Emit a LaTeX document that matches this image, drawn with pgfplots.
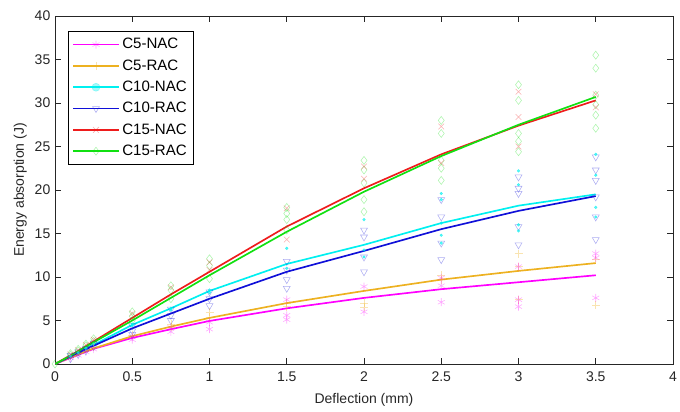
\documentclass[border=0pt]{standalone}
\usepackage{fontspec}
\setmainfont{Liberation Sans}
\usepackage{pgfplots}
\pgfplotsset{compat=1.18}
\definecolor{axc}{HTML}{262626}
\definecolor{cmag}{HTML}{FF00FF}
\definecolor{corg}{HTML}{EDB120}
\definecolor{ccya}{HTML}{00F0F0}
\definecolor{cblu}{HTML}{1010D8}
\definecolor{cred}{HTML}{EE1C1C}
\definecolor{cgrn}{HTML}{11E011}
\pgfplotsset{
  linestyle/.style={line width=1.25pt, no marks, forget plot},
  pts/.style={only marks, forget plot, mark size=3pt, line width=0.4pt, opacity=0.35},
}
\begin{document}
\begin{tikzpicture}
\useasboundingbox (-41.25pt,-35.25pt) rectangle (468.75pt,273pt);
\begin{axis}[
  scale only axis,
  width=463.5pt, height=261pt,
  xmin=0, xmax=4, ymin=0, ymax=40,
  xtick={0,0.5,...,4}, ytick={0,5,...,40},
  xticklabels={0,0.5,1,1.5,2,2.5,3,3.5,4},
  tick align=inside, major tick length=4.5pt,
  axis line style={axc, line width=0.6pt},
  every tick/.style={axc, line width=0.6pt},
  tick label style={font=\fontsize{10.5pt}{12pt}\selectfont, color=axc},
  xticklabel style={yshift=-2pt},
  label style={font=\fontsize{10.5pt}{12pt}\selectfont, color=axc},
  /pgf/number format/assume math mode=true,
  xlabel={Deflection (mm)}, ylabel={Energy absorption (J)},
  xlabel style={yshift=-2pt}, ylabel style={yshift=-1pt},
  legend cell align=left,
  legend style={at={(rel axis cs:0,1)}, anchor=north west, xshift=9.75pt, yshift=-11.25pt,
    draw=black, line width=0.6pt, font=\fontsize{11.3pt}{15.3pt}\selectfont, inner xsep=3pt, inner ysep=3.2pt,
    row sep=2.6pt},
  legend image code/.code={\draw[#1] (0cm,0cm) -- (1.2cm,0cm); \draw[mark size=3pt, #1, opacity=0.35, line width=0.4pt] plot coordinates {(0.6cm,0cm)};},
]
\addlegendimage{cmag, line width=1.25pt, mark=asterisk}
\addlegendimage{corg, line width=1.25pt, mark=+}
\addlegendimage{ccya, line width=1.25pt, mark=*, mark size=1pt}
\addlegendimage{cblu, line width=1.25pt, mark=triangle, mark options={rotate=180}}
\addlegendimage{cred, line width=1.25pt, mark=x}
\addlegendimage{cgrn, line width=1.25pt, mark=diamond}
\legend{C5-NAC, C5-RAC, C10-NAC, C10-RAC, C15-NAC, C15-RAC}

% individual specimens
\addplot[pts, cgrn, mark=diamond] coordinates {
 (0,0) (0.1,1.0) (0.1,1.2) (0.15,1.5) (0.15,1.7) (0.2,2.1) (0.2,2.3) (0.25,2.6) (0.25,2.9)
 (0.5,6.0) (0.5,5.5) (0.5,5.0) (0.75,9.0) (0.75,8.5) (0.75,7.5)
 (1,12.1) (1,11.3) (1,9.8) (1.5,18.0) (1.5,17.3) (1.5,16.6) (1.5,15.4)
 (2,23.4) (2,22.3) (2,20.8) (2,18.9) (2,17.5)
 (2.5,28.0) (2.5,26.5) (2.5,23.4) (2.5,22.5) (2.5,21.1)
 (3,32.1) (3,30.3) (3,26.5) (3,25.6) (3,24.4)
 (3.5,35.5) (3.5,34.0) (3.5,30.9) (3.5,29.8) (3.5,28.6) (3.5,27.1)};
\addplot[pts, cred, mark=x] coordinates {
 (0.1,1.1) (0.15,1.6) (0.2,2.2) (0.25,2.8) (0.5,5.8) (0.75,8.8) (1,11.7) (1,10.8)
 (1.5,17.9) (1.5,14.3) (2,22.7) (2,21.3) (2.5,27.3) (2.5,23.1)
 (3,31.3) (3,28.4) (3,25.0) (3.5,31.0) (3.5,29.5)};
\addplot[pts, cblu, mark=triangle, mark options={rotate=180}] coordinates {
 (0.1,1.0) (0.1,0.6) (0.15,1.4) (0.15,1.1) (0.2,1.8) (0.2,1.5) (0.25,2.4) (0.25,2.0)
 (0.5,4.4) (0.5,3.8) (0.5,3.4) (0.75,6.3) (0.75,5.6) (0.75,5.0)
 (1,8.3) (1,7.5) (1,6.7) (1.5,11.8) (1.5,10.8) (1.5,9.7) (1.5,8.7)
 (2,15.4) (2,14.6) (2,12.3) (2,10.6) (2.5,18.9) (2.5,16.9) (2.5,13.9) (2.5,12.0)
 (3,21.5) (3,20.2) (3,19.6) (3,15.8) (3,13.7)
 (3.5,23.8) (3.5,22.3) (3.5,21.1) (3.5,19.2) (3.5,16.9) (3.5,14.3)};
\addplot[pts, ccya, mark=*, mark size=1pt, opacity=0.6] coordinates {
 (0.1,0.9) (0.15,1.3) (0.2,1.8) (0.25,2.3) (0.5,4.6) (0.5,4.4) (0.75,6.2) (0.75,6.4)
 (1,8.5) (1,8.2) (1.5,13.3) (1.5,11.0) (2,16.6) (2,13.1) (2,12.3)
 (2.5,19.6) (2.5,18.9) (2.5,16.2) (2.5,14.8) (2.5,13.9)
 (3,22.2) (3,20.6) (3,16.0) (3,15.3) (3.5,24.1) (3.5,21.7) (3.5,18.0) (3.5,16.9)};
\addplot[pts, corg, mark=+] coordinates {
 (0.25,1.9) (0.5,3.3) (0.75,4.6) (0.75,4.2) (1,6.0) (1,5.4) (1.5,7.0) (1.5,6.6)
 (2,7.0) (2,6.5) (2.5,10.2) (2.5,9.7) (3,12.7) (3,11.2) (3,7.4) (3.5,12.0) (3.5,6.8)};
\addplot[pts, cmag, mark=asterisk] coordinates {
 (0.1,0.7) (0.15,1.0) (0.2,1.4) (0.25,1.7) (0.5,3.1) (0.5,2.8) (0.75,4.2) (0.75,3.7)
 (1,4.8) (1,4.0) (1.5,7.4) (1.5,5.6) (1.5,5.1) (2,8.9) (2,6.0)
 (2.5,9.9) (2.5,9.0) (2.5,7.1) (3,11.2) (3,7.4) (3,6.6) (3.5,12.7) (3.5,12.2) (3.5,7.6)};

% mean curves
\addplot[linestyle, cmag] coordinates {(0,0) (0.1,0.7) (0.15,1.05) (0.2,1.4) (0.25,1.75) (0.5,3.0) (0.75,4.0) (1,4.95) (1.5,6.4) (2,7.6) (2.5,8.6) (3,9.4) (3.5,10.2)};
\addplot[linestyle, corg] coordinates {(0,0) (0.1,0.75) (0.15,1.1) (0.2,1.45) (0.25,1.8) (0.5,3.2) (0.75,4.3) (1,5.3) (1.5,7.0) (2,8.4) (2.5,9.7) (3,10.7) (3.5,11.6)};
\addplot[linestyle, ccya] coordinates {(0,0) (0.1,0.9) (0.15,1.35) (0.2,1.8) (0.25,2.2) (0.5,4.5) (0.75,6.4) (1,8.4) (1.5,11.5) (2,13.7) (2.5,16.2) (3,18.2) (3.5,19.5)};
\addplot[linestyle, cblu] coordinates {(0,0) (0.1,0.85) (0.15,1.3) (0.2,1.7) (0.25,2.1) (0.5,4.1) (0.75,5.8) (1,7.5) (1.5,10.6) (2,13.0) (2.5,15.5) (3,17.6) (3.5,19.3)};
\addplot[linestyle, cred] coordinates {(0,0) (0.1,1.0) (0.15,1.5) (0.2,2.05) (0.25,2.6) (0.5,5.3) (0.75,8.0) (1,10.6) (1.5,15.8) (2,20.2) (2.5,24.1) (3,27.4) (3.5,30.3)};
\addplot[linestyle, cgrn] coordinates {(0,0) (0.1,0.95) (0.15,1.45) (0.2,2.0) (0.25,2.5) (0.5,5.0) (0.75,7.6) (1,10.2) (1.5,15.2) (2,19.8) (2.5,23.9) (3,27.5) (3.5,30.7)};
\end{axis}
\end{tikzpicture}
\end{document}
